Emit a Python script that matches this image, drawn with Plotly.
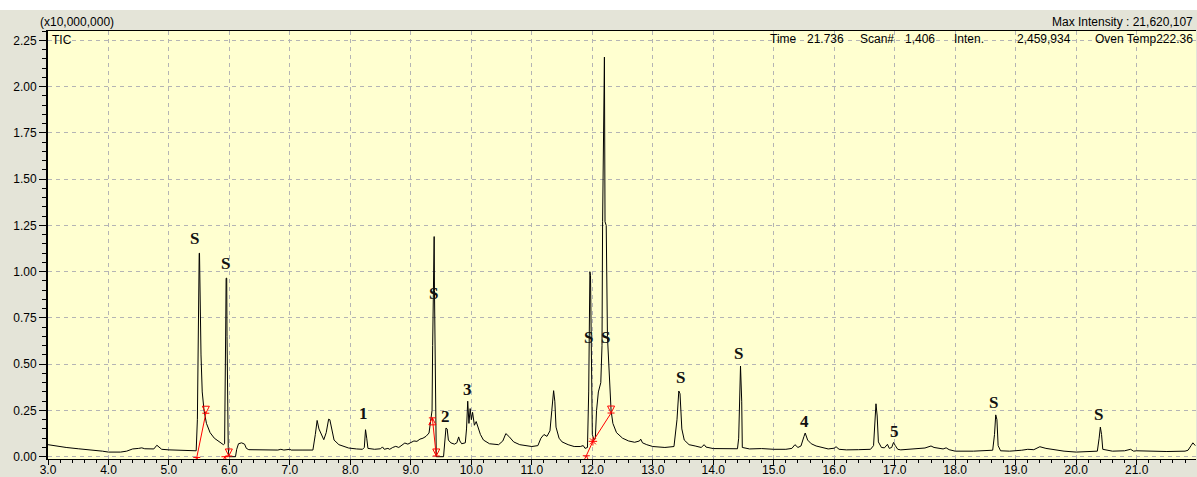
import plotly.graph_objects as go

# Retention time (min) and TIC intensity (x10,000,000)
rt = [3.00, 3.05, 3.15, 3.30, 3.50, 3.70, 3.90, 4.00, 4.20, 4.30, 4.40, 4.50, 4.55, 4.60, 4.70, 4.75, 4.80, 4.83, 4.88, 5.00,
      5.20, 5.40, 5.45, 5.47, 5.48, 5.49, 5.50, 5.505, 5.51, 5.52, 5.53, 5.55, 5.58, 5.62, 5.68, 5.75, 5.85, 5.90, 5.92, 5.93,
      5.94, 5.945, 5.955, 5.96, 5.97, 5.98, 5.99, 6.00, 6.10, 6.12, 6.15, 6.20, 6.25, 6.28, 6.32, 6.50, 6.80, 6.85, 6.90, 7.00,
      7.02, 7.20, 7.38, 7.42, 7.45, 7.48, 7.53, 7.56, 7.60, 7.64, 7.66, 7.70, 7.73, 7.81, 7.97, 8.10, 8.20, 8.23, 8.25, 8.27,
      8.29, 8.40, 8.50, 8.53, 8.56, 8.62, 8.65, 8.70, 8.75, 8.80, 8.85, 8.90, 8.95, 9.00, 9.05, 9.10, 9.15, 9.20, 9.25, 9.30,
      9.33, 9.35, 9.36, 9.37, 9.375, 9.385, 9.39, 9.40, 9.41, 9.42, 9.54, 9.56, 9.58, 9.60, 9.62, 9.66, 9.72, 9.76, 9.79, 9.81,
      9.84, 9.90, 9.92, 9.94, 9.96, 9.98, 10.00, 10.02, 10.05, 10.08, 10.11, 10.15, 10.20, 10.30, 10.45, 10.52, 10.57, 10.62, 10.70, 10.80,
      11.00, 11.10, 11.15, 11.20, 11.25, 11.30, 11.33, 11.36, 11.38, 11.40, 11.45, 11.50, 11.60, 11.70, 11.80, 11.85, 11.88, 11.92, 11.94, 11.95,
      11.96, 11.97, 11.98, 11.99, 12.00, 12.03, 12.05, 12.07, 12.10, 12.14, 12.16, 12.17, 12.18, 12.19, 12.20, 12.21, 12.23, 12.25, 12.28, 12.31,
      12.34, 12.40, 12.50, 12.60, 12.70, 12.78, 12.80, 12.83, 12.90, 13.00, 13.20, 13.35, 13.40, 13.43, 13.45, 13.48, 13.52, 13.60, 13.70, 13.80,
      13.85, 13.88, 14.00, 14.20, 14.40, 14.42, 14.44, 14.45, 14.47, 14.48, 14.60, 14.80, 15.00, 15.20, 15.30, 15.35, 15.40, 15.45, 15.50, 15.52,
      15.56, 15.62, 15.70, 15.90, 16.00, 16.03, 16.08, 16.20, 16.40, 16.60, 16.65, 16.68, 16.69, 16.71, 16.73, 16.78, 16.83, 16.88, 16.91, 16.95,
      16.98, 17.01, 17.05, 17.10, 17.30, 17.50, 17.60, 17.65, 17.80, 17.85, 17.90, 18.00, 18.30, 18.50, 18.62, 18.65, 18.67, 18.69, 18.71, 18.75,
      18.90, 19.10, 19.20, 19.30, 19.40, 19.50, 19.70, 19.80, 20.00, 20.20, 20.35, 20.38, 20.40, 20.42, 20.44, 20.60, 20.80, 20.90, 20.95, 21.00,
      21.20, 21.50, 21.80, 21.85, 21.90, 21.93, 21.97]
tic = [0.065, 0.062, 0.055, 0.050, 0.043, 0.038, 0.030, 0.025, 0.025, 0.030, 0.042, 0.045, 0.048, 0.043, 0.040, 0.042, 0.062, 0.055, 0.040, 0.037,
       0.033, 0.030, 0.032, 0.20, 0.60, 0.95, 1.10, 1.10, 0.90, 0.68, 0.55, 0.35, 0.25, 0.18, 0.13, 0.10, 0.078, 0.065, 0.070, 0.30,
       0.75, 0.965, 0.965, 0.65, 0.25, 0.05, 0.005, 0.00, 0.00, 0.04, 0.07, 0.075, 0.068, 0.045, 0.038, 0.036, 0.036, 0.040, 0.036, 0.040,
       0.036, 0.036, 0.036, 0.12, 0.196, 0.15, 0.11, 0.092, 0.13, 0.203, 0.20, 0.13, 0.09, 0.065, 0.047, 0.042, 0.040, 0.05, 0.146, 0.10,
       0.045, 0.040, 0.043, 0.053, 0.040, 0.045, 0.040, 0.050, 0.056, 0.050, 0.062, 0.074, 0.068, 0.075, 0.085, 0.083, 0.095, 0.10, 0.11, 0.128,
       0.20, 0.25, 0.60, 0.95, 1.19, 1.19, 0.90, 0.40, 0.02, 0.00, 0.00, 0.06, 0.155, 0.15, 0.09, 0.075, 0.068, 0.075, 0.107, 0.085,
       0.070, 0.075, 0.15, 0.30, 0.18, 0.26, 0.20, 0.24, 0.17, 0.19, 0.16, 0.12, 0.09, 0.07, 0.065, 0.085, 0.125, 0.11, 0.08, 0.065,
       0.055, 0.060, 0.10, 0.12, 0.11, 0.14, 0.25, 0.357, 0.30, 0.16, 0.10, 0.08, 0.065, 0.055, 0.055, 0.060, 0.045, 0.05, 0.35, 0.80,
       1.00, 0.98, 0.55, 0.20, 0.12, 0.09, 0.10, 0.25, 0.35, 0.40, 0.60, 1.27, 1.65, 2.16, 2.16, 1.27, 1.25, 0.65, 0.40, 0.25,
       0.18, 0.13, 0.10, 0.085, 0.078, 0.085, 0.095, 0.075, 0.065, 0.055, 0.050, 0.055, 0.20, 0.355, 0.34, 0.15, 0.09, 0.065, 0.058, 0.050,
       0.065, 0.052, 0.044, 0.042, 0.043, 0.10, 0.40, 0.49, 0.30, 0.05, 0.042, 0.044, 0.040, 0.040, 0.045, 0.065, 0.050, 0.058, 0.11, 0.128,
       0.09, 0.07, 0.058, 0.042, 0.046, 0.054, 0.040, 0.037, 0.038, 0.040, 0.060, 0.20, 0.286, 0.22, 0.08, 0.050, 0.048, 0.067, 0.045, 0.050,
       0.077, 0.060, 0.040, 0.037, 0.040, 0.047, 0.058, 0.050, 0.042, 0.048, 0.038, 0.030, 0.030, 0.032, 0.035, 0.12, 0.226, 0.20, 0.06, 0.032,
       0.030, 0.035, 0.040, 0.038, 0.054, 0.045, 0.035, 0.030, 0.025, 0.027, 0.030, 0.10, 0.160, 0.12, 0.04, 0.030, 0.032, 0.040, 0.030, 0.032,
       0.030, 0.028, 0.030, 0.035, 0.060, 0.075, 0.060]

# Integration baselines (red)
int1_x = [5.46, 5.61]
int1_y = [-0.004, 0.235]
int2_x = [5.925, 5.99]
int2_y = [0.0, 0.004]
int3_x = [9.355, 9.42]
int3_y = [0.21, 0.004]
int4_x = [11.90, 12.01, 12.31]
int4_y = [0.005, 0.083, 0.236]

# Peak labels
label_text = ["S", "S", "1", "S", "2", "3", "S", "S", "S", "S", "4", "5", "S", "S"]
label_x = [5.43, 5.94, 8.22, 9.38, 9.58, 9.93, 11.93, 12.21, 13.45, 14.42, 15.51, 17.00, 18.64, 20.37]
label_y = [1.18, 1.047, 0.232, 0.88, 0.215, 0.365, 0.642, 0.642, 0.426, 0.556, 0.189, 0.138, 0.295, 0.23]

x_ticks = [3.0 + i for i in range(19)]
y_ticks = [0.0, 0.25, 0.5, 0.75, 1.0, 1.25, 1.5, 1.75, 2.0, 2.25]

W, H = 1197, 477
ML, MR, MT, MB = 48, 1, 31, 18
PW, PH = W - ML - MR, H - MT - MB


def px(xp):
    return (xp - ML) / PW


def py(yp):
    return 1 - (yp - MT) / PH


fig = go.Figure()
fig.add_trace(go.Scatter(x=rt, y=tic, mode="lines", line=dict(color="black", width=1),
                         hoverinfo="x+y", showlegend=False))

red = "#FF0000"
for xs, ys, syms in [
    (int1_x, int1_y, ["arrow-bar-up-open", "arrow-bar-down-open"]),
    (int2_x, int2_y, ["arrow-bar-up-open", "arrow-bar-down-open"]),
    (int3_x, int3_y, ["arrow-bar-up-open", "arrow-bar-down-open"]),
    (int4_x, int4_y, ["arrow-bar-up-open", "asterisk-open", "arrow-bar-down-open"]),
]:
    fig.add_trace(go.Scatter(x=xs, y=ys, mode="lines+markers",
                             line=dict(color=red, width=1),
                             marker=dict(symbol=syms, size=7, color=red, line=dict(color=red, width=1)),
                             showlegend=False, hoverinfo="skip"))

for t, lx, ly in zip(label_text, label_x, label_y):
    fig.add_annotation(x=lx, y=ly, text="<b>%s</b>" % t, showarrow=False,
                       font=dict(family="Liberation Serif", size=17, color="#111111"),
                       xanchor="center", yanchor="middle")

txt_font = dict(family="Liberation Sans", size=12, color="black")
fig.add_annotation(xref="paper", yref="paper", x=px(38), y=py(22), text="(x10,000,000)",
                   showarrow=False, xanchor="left", yanchor="middle", font=txt_font)
fig.add_annotation(xref="paper", yref="paper", x=px(1195), y=py(22), text="Max Intensity : 21,620,107",
                   showarrow=False, xanchor="right", yanchor="middle", font=txt_font)
fig.add_annotation(xref="paper", yref="paper", x=px(50), y=py(40), text="TIC",
                   showarrow=False, xanchor="left", yanchor="middle", font=txt_font)
for xpix, s in [(768, "Time"), (805, "21.736"), (858, "Scan#"), (903, "1,406"),
                (952, "Inten."), (1015, "2,459,934")]:
    fig.add_annotation(xref="paper", yref="paper", x=px(xpix), y=py(39), text=s,
                       showarrow=False, xanchor="left", yanchor="middle", font=txt_font)
fig.add_annotation(xref="paper", yref="paper", x=px(1195), y=py(39), text="Oven Temp222.36",
                   showarrow=False, xanchor="right", yanchor="middle", font=txt_font)

# white strip at top of the window
fig.add_shape(type="rect", xref="paper", yref="paper", x0=px(-5), x1=px(W + 5), y0=py(10), y1=py(-5),
              fillcolor="white", line=dict(width=0), layer="below")

fig.update_layout(
    width=W, height=H,
    margin=dict(l=ML, r=MR, t=MT, b=MB, autoexpand=False),
    paper_bgcolor="#E4E4D8",
    plot_bgcolor="#FFFFD0",
    font=dict(family="Liberation Sans", size=12, color="black"),
    hovermode="closest",
)
fig.update_xaxes(
    range=[3.0, 3.0 + PW / 60.48], tickvals=x_ticks, ticktext=["%.1f" % v for v in x_ticks],
    ticks="outside", ticklen=5, tickwidth=1, tickcolor="black",
    showline=True, linecolor="black", linewidth=1, mirror=True,
    showgrid=True, gridcolor="#B4B4B4", griddash="4px,4px", gridwidth=1,
    minor=dict(dtick=0.2, tick0=3.0, ticks="outside", ticklen=3, tickcolor="black", showgrid=False),
    zeroline=False, ticklabelstandoff=-5, automargin=False,
)
fig.update_yaxes(
    range=[-0.0124, 2.301], tickvals=y_ticks, ticktext=["%.2f" % v for v in y_ticks],
    ticks="outside", ticklen=7, tickwidth=1, tickcolor="black",
    showline=True, linecolor="black", linewidth=2,
    showgrid=True, gridcolor="#B4B4B4", griddash="4px,4px", gridwidth=1,
    minor=dict(dtick=0.05, tick0=0.0, ticks="outside", ticklen=4, tickcolor="black", showgrid=False),
    zeroline=False, ticklabelstandoff=0, automargin=False,
)

fig.write_html("out.html")
